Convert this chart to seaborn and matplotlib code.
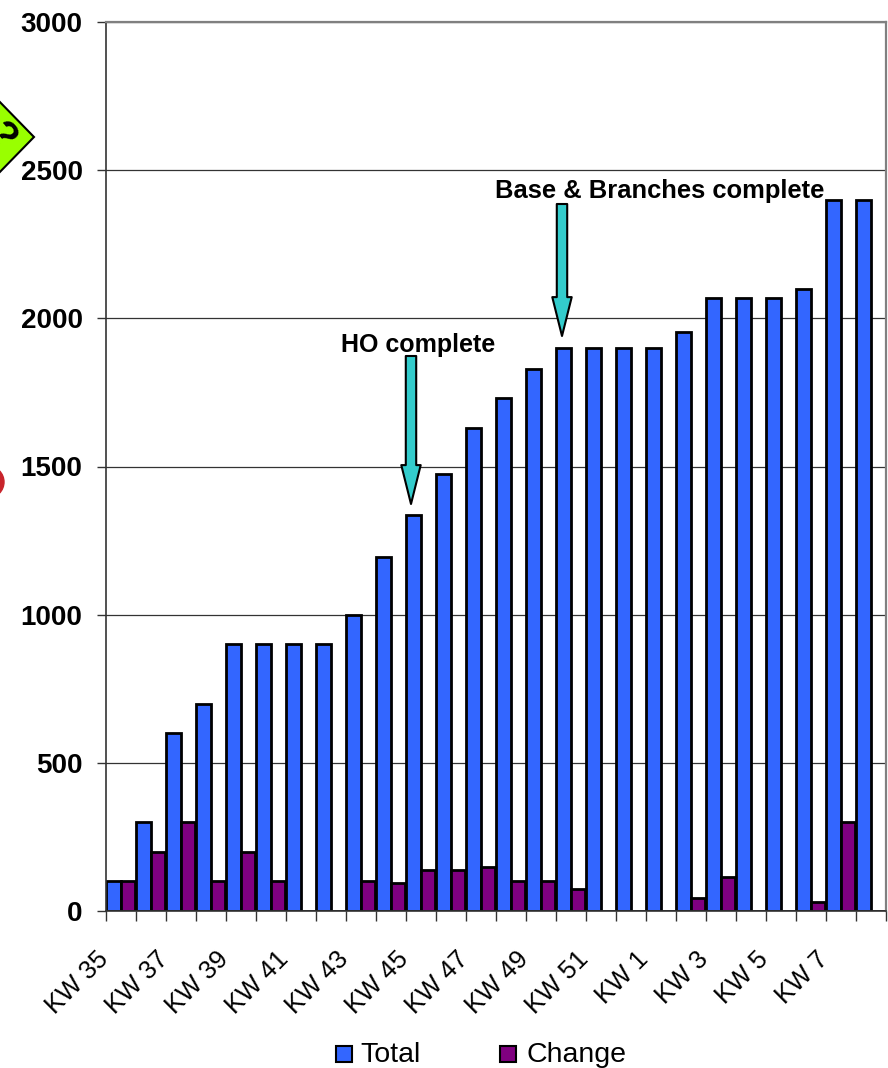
import pandas as pd
import numpy as np
import matplotlib
matplotlib.use('Agg')
import matplotlib.pyplot as plt
from matplotlib.patches import Polygon, Circle
from matplotlib.ticker import FixedLocator
from matplotlib.transforms import ScaledTranslation
import seaborn as sns

weeks = ['KW %d' % w for w in range(35, 53)] + ['KW %d' % w for w in range(1, 9)]
total = [100, 300, 600, 700, 900, 900, 900, 900, 1000, 1195, 1335, 1475, 1630,
         1730, 1830, 1900, 1900, 1900, 1900, 1955, 2070, 2070, 2070, 2100, 2400, 2400]
change = [100, 200, 300, 100, 200, 100, 0, 0, 100, 95, 140, 140, 150,
          100, 100, 75, 0, 0, 0, 45, 115, 0, 0, 30, 300, 0]
yticks = [0, 500, 1000, 1500, 2000, 2500, 3000]

W, H = 888, 1068

df = pd.DataFrame({'week': weeks, 'Total': total, 'Change': change})
df = df.melt(id_vars='week', var_name='series', value_name='value')

sns.set_theme(style='white')
plt.rcParams['font.family'] = ['Liberation Sans', 'DejaVu Sans']
plt.rcParams['text.color'] = 'black'
plt.rcParams['xtick.labelcolor'] = 'black'
plt.rcParams['ytick.labelcolor'] = 'black'

fig = plt.figure(figsize=(W / 100, H / 100), dpi=100)
ax = fig.add_axes([105.5 / W, 1 - 911 / H, 780 / W, 889 / H])

sns.barplot(data=df, x='week', y='value', hue='series', order=weeks,
            hue_order=['Total', 'Change'], palette={'Total': '#3366ff', 'Change': '#800080'},
            width=0.94, saturation=1, edgecolor='black', linewidth=2, errorbar=None,
            legend=False, ax=ax)

ax.set_xlim(-0.5, 25.5)
ax.set_ylim(0, 3000)
ax.set_xlabel('')
ax.set_ylabel('')

ax.set_yticks(yticks)
ax.set_yticklabels([str(v) for v in yticks], fontsize=20, fontweight='bold')
ax.grid(axis='y', color='#333333', linewidth=0.9)
ax.set_axisbelow(True)
ax.tick_params(axis='y', length=6.5, width=1, color='#333333', pad=10, left=True)

# ticks sit between the weeks, labels on every other week
ax.xaxis.set_minor_locator(FixedLocator(np.arange(-0.5, 26, 1)))
ax.tick_params(axis='x', which='minor', length=7, width=1, color='#333333', bottom=True)
ax.set_xticks(range(0, 26, 2))
ax.set_xticklabels(weeks[::2], fontsize=18.5, rotation=45, ha='right', rotation_mode='anchor')
ax.tick_params(axis='x', which='major', length=0, pad=26)
shift = ScaledTranslation(-17.5 / 72, 0, fig.dpi_scale_trans)
for t in ax.get_xticklabels():
    t.set_transform(t.get_transform() + shift)

for name, s in ax.spines.items():
    s.set_visible(True)
    if name in ('top', 'right'):
        s.set_color('#808080')
        s.set_linewidth(1.6)
    else:
        s.set_color('#333333')
        s.set_linewidth(1.2)


def px(x, y):
    return (x / W, 1 - y / H)


def arrow(x, y0, y1):
    ax.annotate('', xy=px(x, y1), xytext=px(x, y0), xycoords='figure fraction',
                textcoords='figure fraction', annotation_clip=False, zorder=6,
                arrowprops=dict(width=7.5, headwidth=14, headlength=28, shrink=0,
                                fc='#33cccc', ec='black', lw=1.5))


arrow(411, 356, 504)
arrow(562, 204, 336)
fig.text(*px(418.5, 345), 'HO complete', fontsize=18, fontweight='bold', ha='center', va='center')
fig.text(*px(660, 191), 'Base & Branches complete', fontsize=18.4, fontweight='bold', ha='center', va='center')

# pieces of shapes cut off at the left edge of the slide
fig.add_artist(Polygon([px(34, 137), px(-5, 97), px(-45, 137), px(-5, 177)], closed=True,
                       fc='#99ff00', ec='black', lw=1.5, transform=fig.transFigure))
fig.text(*px(0, 137), '?', fontsize=28, fontweight='bold', rotation=-50, ha='center', va='center')
fig.add_artist(Circle((-12, H - 482), 16, fc='#c8242b', ec='#c8242b', transform=None))

# legend drawn by hand to sit at bottom centre
for x, tx, c, label in [(344, 360, '#3366ff', 'Total'), (508, 526, '#800080', 'Change')]:
    fig.add_artist(Polygon([px(x - 8, 1046), px(x + 8, 1046), px(x + 8, 1062), px(x - 8, 1062)],
                           closed=True, fc=c, ec='black', lw=1.5, transform=fig.transFigure))
    fig.text(*px(tx, 1055), label, fontsize=20.5, ha='left', va='center')

fig.savefig('out.png', dpi=100)
